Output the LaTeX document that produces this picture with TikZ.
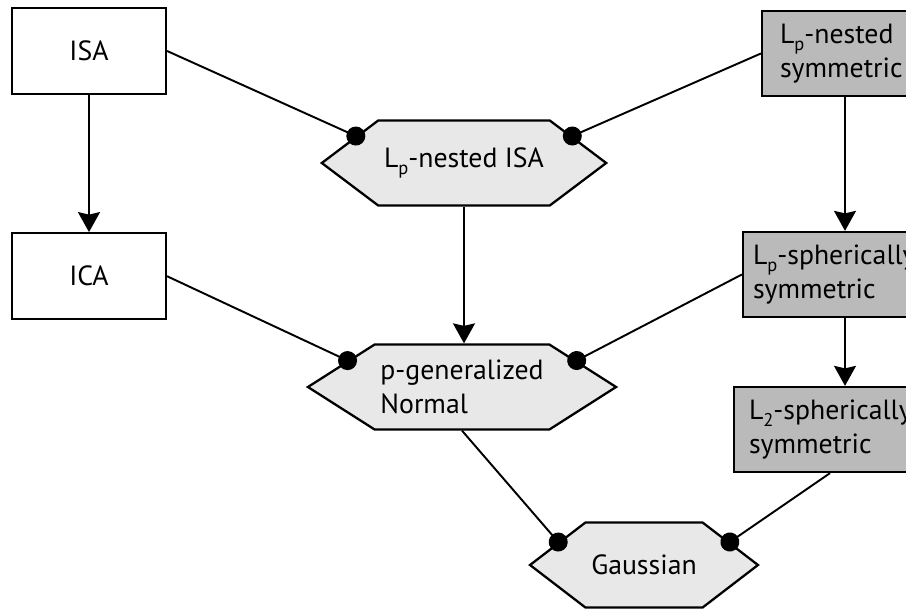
\documentclass[tikz,border=0pt]{standalone}
\usepackage{fontspec}
\setmainfont{PT Sans}
\usetikzlibrary{positioning, arrows.meta, shapes.symbols}
\newcommand{\lsub}[1]{L\raisebox{-0.5ex}{\fontsize{10.5}{10}\selectfont #1}}

\begin{document}
\begin{tikzpicture}[x=0.02cm,y=-0.02cm,font=\fontsize{15.8}{19}\selectfont,
  >={Stealth[length=0.4cm,width=0.44cm,inset=0.05cm]},line width=1.1pt,
  b/.style={draw,line width=1.3pt,fill=white,minimum width=3.08cm,minimum height=1.72cm},
  gb/.style={draw,line width=1.3pt,fill=black!27,align=left,minimum height=1.7cm},
  hx/.style={draw,line width=1.3pt,fill=black!9,shape=signal,signal to=east and west,minimum height=1.7cm,align=left},
  dt/.style={-{Circle[length=0.38cm]},shorten >=-0.19cm}]
  \useasboundingbox (0,0) rectangle (906,609);
  \node[b](isa) at (89,51){ISA};
  \node[b,below=2.74cm of isa](ica){ICA};
  \node[hx,minimum width=4.5cm,signal pointer angle=74](lpisa) at (464,163){\lsub{p}-nested ISA};
  \node[hx,minimum width=5.4cm,signal pointer angle=65](pgen) at (462,387){p-generalized\\Normal};
  \node[hx,minimum width=4.44cm,signal pointer angle=75](gauss) at (644,565){Gaussian};
  \node[gb,text width=2.6cm,inner xsep=0.36cm](lpsym) at (845,53.5){\lsub{p}-nested\\symmetric};
  \node[gb,text width=3.68cm,inner xsep=0.2cm](lpsph) at (845,274.5){\lsub{p}-spherically\\symmetric};
  \node[gb,text width=3.6cm,inner xsep=0.3cm](l2sph) at (839,429.5){\lsub{2}-spherically\\symmetric};
  \draw[->](isa)--(ica);
  \draw[->](lpisa.south)--(lpisa.south|-pgen.north);
  \draw[->](lpsym.south)--(lpsym.south|-lpsph.north);
  \draw[->](lpsph.south)--(lpsph.south|-l2sph.north);
  \draw[dt](isa.east)--(lpisa.166);\draw[dt](lpsym.west)--(lpisa.14);
  \draw[dt](ica.east)--(pgen.167);\draw[dt](lpsph.west)--(pgen.13);
  \draw[dt](pgen.south)--(gauss.165);\draw[dt]([xshift=-0.18cm]l2sph.south)--(gauss.15);
\end{tikzpicture}
\end{document}
